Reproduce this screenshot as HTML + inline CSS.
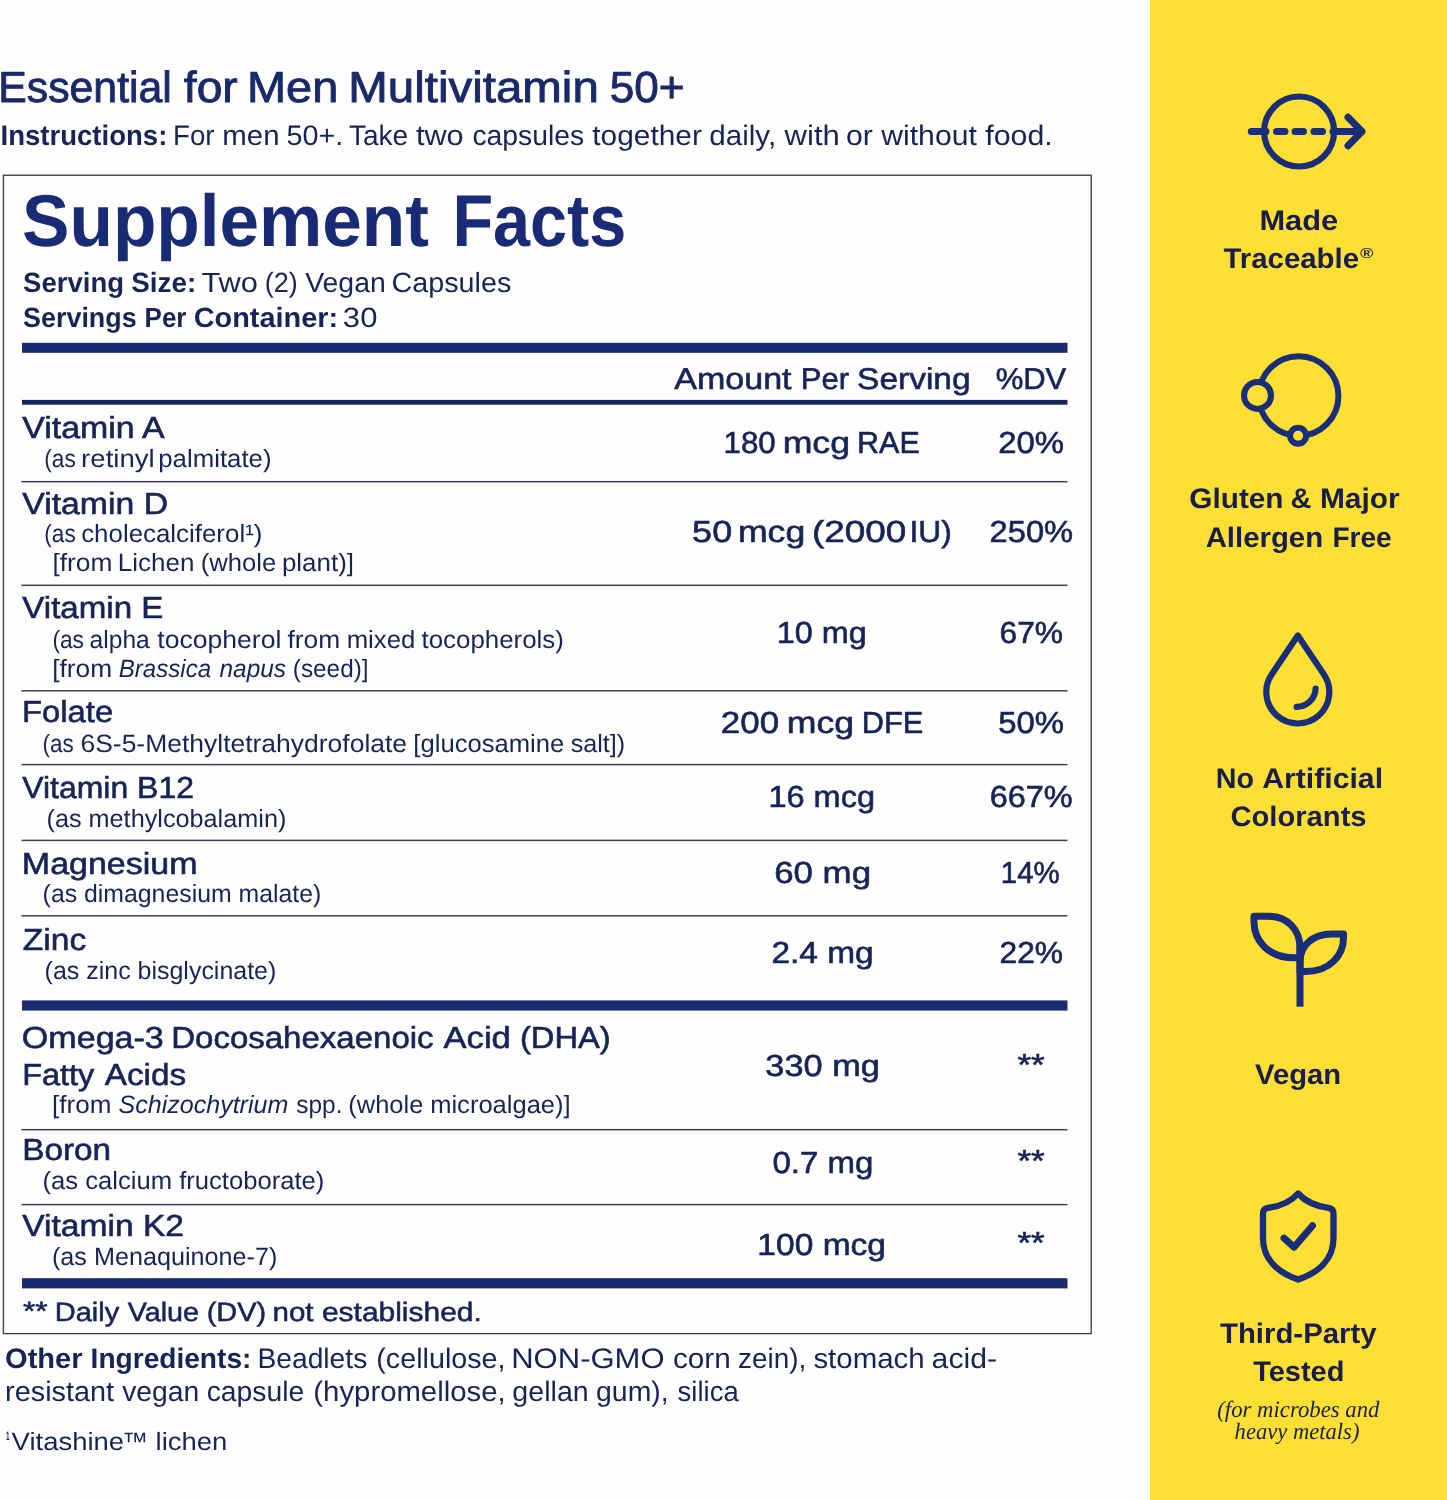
<!DOCTYPE html>
<html lang="en">
<head>
<meta charset="utf-8">
<title>Essential for Men Multivitamin 50+ - Supplement Facts</title>
<style>
  html, body { margin: 0; padding: 0; }
  body { width: 1447px; height: 1500px; overflow: hidden; background: #fefefe;
         font-family: "Liberation Sans", sans-serif; color: #172456; position: relative; }
  .sidebar { position: absolute; left: 1149.5px; top: 0; width: 298px; height: 1500px; background: #fde033; }
  .facts-box { position: absolute; left: 3px; top: 175px; width: 1088px; height: 1158px; background: #fefefe; }
  svg.layer { position: absolute; left: 0; top: 0; width: 1447px; height: 1500px; will-change: transform; }
  svg.layer text { font-family: "Liberation Sans", sans-serif; fill: #172456; white-space: pre; text-rendering: geometricPrecision; }
  svg.layer text.sf { font-family: "Liberation Serif", serif; }
</style>
</head>
<body>
<div class="sidebar"></div>
<div class="facts-box"></div>
<svg class="layer" width="1447" height="1500" viewBox="0 0 1447 1500">
<rect id="facts-border" x="3.4" y="175.25" width="1087.8" height="1158.35" fill="none" stroke="#41454e" stroke-width="1.4"/>
<g id="rules">

<rect x="22" y="342.8" width="1045.5" height="10" fill="#1b2b72"/>
<rect x="22" y="399.9" width="1045.5" height="4.8" fill="#16245c"/>
<rect x="22" y="1000.4" width="1045.5" height="10.2" fill="#1b2b72"/>
<rect x="22" y="1278.2" width="1045.5" height="10.2" fill="#1b2b72"/>

<rect x="21.5" y="480.95" width="1046" height="1.5" fill="#3b4258"/>
<rect x="21.5" y="584.55" width="1046" height="1.5" fill="#3b4258"/>
<rect x="21.5" y="690.05" width="1046" height="1.5" fill="#3b4258"/>
<rect x="21.5" y="763.85" width="1046" height="1.5" fill="#3b4258"/>
<rect x="21.5" y="839.65" width="1046" height="1.5" fill="#3b4258"/>
<rect x="21.5" y="915.05" width="1046" height="1.5" fill="#3b4258"/>
<rect x="21.5" y="1128.95" width="1046" height="1.5" fill="#3b4258"/>
<rect x="21.5" y="1203.85" width="1046" height="1.5" fill="#3b4258"/>
</g>
<g id="icons" fill="none" stroke="#1a2d78" stroke-linecap="round" stroke-linejoin="round">
<!-- Made Traceable: circle with dashed arrow -->
<g stroke-width="6.2">
<circle cx="1299.1" cy="131.5" r="35"/>
</g>
<g stroke-width="7">
<path d="M1251.3 131.5 H1266"/>
<path d="M1276.5 131.5 h8.5 M1295 131.5 h8.5 M1314 131.5 h8.5"/>
<path d="M1333 131.5 H1361"/>
<path d="M1348 117.3 L1362 131.5 L1348 145.7"/>
</g>
<!-- Allergen free: ring with two beads -->
<g stroke-width="6">
<circle cx="1298.6" cy="396" r="39.8"/>
<circle cx="1257.5" cy="395.4" r="13.5" fill="#fde033"/>
<circle cx="1298.1" cy="435.7" r="8" fill="#fde033"/>
</g>
<!-- Drop -->
<g stroke-width="6.2">
<path d="M1297.8 635.5 L1271.65 674.44 A31.5 31.5 0 1 0 1323.95 674.44 Z"/>
<path d="M1315.6 688.6 A19 19 0 0 1 1296.6 706.9"/>
</g>
<!-- Sprout -->
<g stroke-width="7" stroke-linecap="butt" stroke-linejoin="miter">
<path d="M1300 1006.7 V945"/>
<path d="M1254 916.2 H1268 C1288 916.2 1300 930 1300 948 V957.8 H1294 C1268 957.8 1254 940 1254 922 Z" stroke-linejoin="round"/>
<path d="M1343.5 934 H1332 C1312 934 1300 946 1300 962 V971.5 H1306 C1330 971.5 1343.5 955 1343.5 938 Z" stroke-linejoin="round"/>
</g>
<!-- Shield -->
<g stroke-width="6.3">
<path d="M1298.1 1193.5 C1291 1201.5 1279 1206.5 1268 1207.8 Q1263 1208.4 1263 1213.5 V1238 C1263 1260 1279 1273 1298.1 1279.5 C1317.5 1273 1333.5 1260 1333.5 1238 V1213.5 Q1333.5 1208.4 1328.5 1207.8 C1317.5 1206.5 1305.5 1201.5 1298.1 1193.5 Z"/>
<path d="M1284 1238.2 L1294 1247.2 L1312.5 1225.7" stroke-width="7"/>
</g>

</g>
<g id="text">
<text y="102" font-size="43.5" style="fill:#1a2a68" stroke="#1a2a68" stroke-width="0.87" x="-1.75" textLength="173.57" lengthAdjust="spacingAndGlyphs">Essential</text>
<text y="102" font-size="43.5" style="fill:#1a2a68" stroke="#1a2a68" stroke-width="0.87" x="183.80" textLength="53.92" lengthAdjust="spacingAndGlyphs">for</text>
<text y="102" font-size="43.5" style="fill:#1a2a68" stroke="#1a2a68" stroke-width="0.87" x="246.96" textLength="91.30" lengthAdjust="spacingAndGlyphs">Men</text>
<text y="102" font-size="43.5" style="fill:#1a2a68" stroke="#1a2a68" stroke-width="0.87" x="348.33" textLength="250.46" lengthAdjust="spacingAndGlyphs">Multivitamin</text>
<text y="102" font-size="43.5" style="fill:#1a2a68" stroke="#1a2a68" stroke-width="0.87" x="609.79" textLength="74.84" lengthAdjust="spacingAndGlyphs">50+</text>
<text y="145" font-size="28.2" font-weight="bold" x="0.52" textLength="166.81" lengthAdjust="spacingAndGlyphs">Instructions:</text>
<text y="145" font-size="28.2" x="173.03" textLength="41.55" lengthAdjust="spacingAndGlyphs">For</text>
<text y="145" font-size="28.2" x="222.36" textLength="57.19" lengthAdjust="spacingAndGlyphs">men</text>
<text y="145" font-size="28.2" x="286.48" textLength="56.79" lengthAdjust="spacingAndGlyphs">50+.</text>
<text y="145" font-size="28.2" x="348.90" textLength="59.37" lengthAdjust="spacingAndGlyphs">Take</text>
<text y="145" font-size="28.2" x="415.90" textLength="47.74" lengthAdjust="spacingAndGlyphs">two</text>
<text y="145" font-size="28.2" x="472.40" textLength="111.70" lengthAdjust="spacingAndGlyphs">capsules</text>
<text y="145" font-size="28.2" x="592.30" textLength="109.61" lengthAdjust="spacingAndGlyphs">together</text>
<text y="145" font-size="28.2" x="709.25" textLength="66.87" lengthAdjust="spacingAndGlyphs">daily,</text>
<text y="145" font-size="28.2" x="784.60" textLength="55.25" lengthAdjust="spacingAndGlyphs">with</text>
<text y="145" font-size="28.2" x="846.03" textLength="26.89" lengthAdjust="spacingAndGlyphs">or</text>
<text y="145" font-size="28.2" x="881.27" textLength="95.55" lengthAdjust="spacingAndGlyphs">without</text>
<text y="145" font-size="28.2" x="985.30" textLength="67.47" lengthAdjust="spacingAndGlyphs">food.</text>
<text y="246" font-size="73.5" font-weight="bold" style="fill:#1a2b75" x="22.07" textLength="406.90" lengthAdjust="spacingAndGlyphs">Supplement</text>
<text y="246" font-size="73.5" font-weight="bold" style="fill:#1a2b75" x="452.38" textLength="173.93" lengthAdjust="spacingAndGlyphs">Facts</text>
<text y="292" font-size="27.8" font-weight="bold" x="23.10" textLength="100.97" lengthAdjust="spacingAndGlyphs">Serving</text>
<text y="292" font-size="27.8" font-weight="bold" x="131.30" textLength="64.96" lengthAdjust="spacingAndGlyphs">Size:</text>
<text y="292" font-size="27.8" x="201.50" textLength="56.51" lengthAdjust="spacingAndGlyphs">Two</text>
<text y="292" font-size="27.8" x="264.73" textLength="33.10" lengthAdjust="spacingAndGlyphs">(2)</text>
<text y="292" font-size="27.8" x="305.20" textLength="80.59" lengthAdjust="spacingAndGlyphs">Vegan</text>
<text y="292" font-size="27.8" x="391.47" textLength="119.86" lengthAdjust="spacingAndGlyphs">Capsules</text>
<text y="327" font-size="27.8" font-weight="bold" x="23.10" textLength="113.54" lengthAdjust="spacingAndGlyphs">Servings</text>
<text y="327" font-size="27.8" font-weight="bold" x="144.57" textLength="41.86" lengthAdjust="spacingAndGlyphs">Per</text>
<text y="327" font-size="27.8" font-weight="bold" x="193.76" textLength="144.38" lengthAdjust="spacingAndGlyphs">Container:</text>
<text y="327" font-size="27.8" x="342.88" textLength="34.53" lengthAdjust="spacingAndGlyphs">30</text>
<text y="389" font-size="30" stroke="#172456" stroke-width="0.6" x="674.30" textLength="117.25" lengthAdjust="spacingAndGlyphs">Amount</text>
<text y="389" font-size="30" stroke="#172456" stroke-width="0.6" x="800.83" textLength="48.26" lengthAdjust="spacingAndGlyphs">Per</text>
<text y="389" font-size="30" stroke="#172456" stroke-width="0.6" x="857.08" textLength="113.50" lengthAdjust="spacingAndGlyphs">Serving</text>
<text y="389" font-size="30" stroke="#172456" stroke-width="0.6" x="995.67" textLength="70.64" lengthAdjust="spacingAndGlyphs">%DV</text>
<text y="438" font-size="30.4" stroke="#172456" stroke-width="0.61" x="22.30" textLength="142.40" lengthAdjust="spacingAndGlyphs">Vitamin A</text>
<text y="467" font-size="25" x="44.29" textLength="31.46" lengthAdjust="spacingAndGlyphs">(as</text>
<text y="467" font-size="25" x="81.10" textLength="73.62" lengthAdjust="spacingAndGlyphs">retinyl</text>
<text y="467" font-size="25" x="158.27" textLength="113.30" lengthAdjust="spacingAndGlyphs">palmitate)</text>
<text y="453" font-size="30.4" stroke="#172456" stroke-width="0.61" x="723.54" textLength="52.19" lengthAdjust="spacingAndGlyphs">180</text>
<text y="453" font-size="30.4" stroke="#172456" stroke-width="0.61" x="782.65" textLength="67.38" lengthAdjust="spacingAndGlyphs">mcg</text>
<text y="453" font-size="30.4" stroke="#172456" stroke-width="0.61" x="857.09" textLength="62.68" lengthAdjust="spacingAndGlyphs">RAE</text>
<text y="453" font-size="30.4" stroke="#172456" stroke-width="0.61" x="998.22" textLength="65.79" lengthAdjust="spacingAndGlyphs">20%</text>
<text y="514" font-size="30.4" stroke="#172456" stroke-width="0.61" x="22.30" textLength="145.75" lengthAdjust="spacingAndGlyphs">Vitamin D</text>
<text y="542" font-size="25" x="44.29" textLength="31.46" lengthAdjust="spacingAndGlyphs">(as</text>
<text y="542" font-size="25" x="81.16" textLength="181.21" lengthAdjust="spacingAndGlyphs">cholecalciferol¹)</text>
<text y="571" font-size="25" x="52.45" textLength="60.02" lengthAdjust="spacingAndGlyphs">[from</text>
<text y="571" font-size="25" x="117.82" textLength="76.62" lengthAdjust="spacingAndGlyphs">Lichen</text>
<text y="571" font-size="25" x="200.77" textLength="75.55" lengthAdjust="spacingAndGlyphs">(whole</text>
<text y="571" font-size="25" x="281.96" textLength="72.02" lengthAdjust="spacingAndGlyphs">plant)]</text>
<text y="542" font-size="30.4" stroke="#172456" stroke-width="0.61" x="692.12" textLength="40.05" lengthAdjust="spacingAndGlyphs">50</text>
<text y="542" font-size="30.4" stroke="#172456" stroke-width="0.61" x="737.96" textLength="67.27" lengthAdjust="spacingAndGlyphs">mcg</text>
<text y="542" font-size="30.4" stroke="#172456" stroke-width="0.61" x="811.99" textLength="94.41" lengthAdjust="spacingAndGlyphs">(2000</text>
<text y="542" font-size="30.4" stroke="#172456" stroke-width="0.61" x="909.51" textLength="42.25" lengthAdjust="spacingAndGlyphs">IU)</text>
<text y="542" font-size="30.4" stroke="#172456" stroke-width="0.61" x="989.63" textLength="83.47" lengthAdjust="spacingAndGlyphs">250%</text>
<text y="618" font-size="30.4" stroke="#172456" stroke-width="0.61" x="22.30" textLength="141.08" lengthAdjust="spacingAndGlyphs">Vitamin E</text>
<text y="648" font-size="25" x="52.39" textLength="31.56" lengthAdjust="spacingAndGlyphs">(as</text>
<text y="648" font-size="25" x="89.62" textLength="60.19" lengthAdjust="spacingAndGlyphs">alpha</text>
<text y="648" font-size="25" x="157.30" textLength="124.05" lengthAdjust="spacingAndGlyphs">tocopherol</text>
<text y="648" font-size="25" x="287.50" textLength="52.77" lengthAdjust="spacingAndGlyphs">from</text>
<text y="648" font-size="25" x="346.67" textLength="68.66" lengthAdjust="spacingAndGlyphs">mixed</text>
<text y="648" font-size="25" x="421.50" textLength="142.37" lengthAdjust="spacingAndGlyphs">tocopherols)</text>
<text y="677" font-size="25" x="52.25" textLength="59.92" lengthAdjust="spacingAndGlyphs">[from</text>
<text y="677" font-size="25" font-style="italic" x="118.80" textLength="92.31" lengthAdjust="spacingAndGlyphs">Brassica</text>
<text y="677" font-size="25" font-style="italic" x="219.50" textLength="66.49" lengthAdjust="spacingAndGlyphs">napus</text>
<text y="677" font-size="25" x="292.83" textLength="75.69" lengthAdjust="spacingAndGlyphs">(seed)]</text>
<text y="643" font-size="30.4" stroke="#172456" stroke-width="0.61" x="776.87" textLength="89.96" lengthAdjust="spacingAndGlyphs">10 mg</text>
<text y="643" font-size="30.4" stroke="#172456" stroke-width="0.61" x="999.56" textLength="63.51" lengthAdjust="spacingAndGlyphs">67%</text>
<text y="722" font-size="30.4" stroke="#172456" stroke-width="0.61" x="22.04" textLength="91.13" lengthAdjust="spacingAndGlyphs">Folate</text>
<text y="752" font-size="25" x="42.40" textLength="31.25" lengthAdjust="spacingAndGlyphs">(as</text>
<text y="752" font-size="25" x="80.44" textLength="326.62" lengthAdjust="spacingAndGlyphs">6S-5-Methyltetrahydrofolate</text>
<text y="752" font-size="25" x="413.38" textLength="150.85" lengthAdjust="spacingAndGlyphs">[glucosamine</text>
<text y="752" font-size="25" x="570.70" textLength="54.43" lengthAdjust="spacingAndGlyphs">salt])</text>
<text y="733" font-size="30.4" stroke="#172456" stroke-width="0.61" x="720.85" textLength="58.29" lengthAdjust="spacingAndGlyphs">200</text>
<text y="733" font-size="30.4" stroke="#172456" stroke-width="0.61" x="786.86" textLength="67.27" lengthAdjust="spacingAndGlyphs">mcg</text>
<text y="733" font-size="30.4" stroke="#172456" stroke-width="0.61" x="861.78" textLength="61.40" lengthAdjust="spacingAndGlyphs">DFE</text>
<text y="733" font-size="30.4" stroke="#172456" stroke-width="0.61" x="998.22" textLength="65.79" lengthAdjust="spacingAndGlyphs">50%</text>
<text y="798" font-size="30.4" stroke="#172456" stroke-width="0.61" x="22.30" textLength="171.65" lengthAdjust="spacingAndGlyphs">Vitamin B12</text>
<text y="827" font-size="25" x="46.49" textLength="239.85" lengthAdjust="spacingAndGlyphs">(as methylcobalamin)</text>
<text y="807" font-size="30.4" stroke="#172456" stroke-width="0.61" x="768.46" textLength="106.57" lengthAdjust="spacingAndGlyphs">16 mcg</text>
<text y="807" font-size="30.4" stroke="#172456" stroke-width="0.61" x="989.73" textLength="82.96" lengthAdjust="spacingAndGlyphs">667%</text>
<text y="874" font-size="30.4" stroke="#172456" stroke-width="0.61" x="21.86" textLength="175.61" lengthAdjust="spacingAndGlyphs">Magnesium</text>
<text y="902" font-size="25" x="42.61" textLength="278.71" lengthAdjust="spacingAndGlyphs">(as dimagnesium malate)</text>
<text y="883" font-size="30.4" stroke="#172456" stroke-width="0.61" x="774.15" textLength="96.93" lengthAdjust="spacingAndGlyphs">60 mg</text>
<text y="883" font-size="30.4" stroke="#172456" stroke-width="0.61" x="1000.86" textLength="58.93" lengthAdjust="spacingAndGlyphs">14%</text>
<text y="950" font-size="30.4" stroke="#172456" stroke-width="0.61" x="22.80" textLength="63.42" lengthAdjust="spacingAndGlyphs">Zinc</text>
<text y="979" font-size="25" x="44.60" textLength="231.72" lengthAdjust="spacingAndGlyphs">(as zinc bisglycinate)</text>
<text y="963" font-size="30.4" stroke="#172456" stroke-width="0.61" x="771.40" textLength="102.19" lengthAdjust="spacingAndGlyphs">2.4 mg</text>
<text y="963" font-size="30.4" stroke="#172456" stroke-width="0.61" x="999.56" textLength="63.51" lengthAdjust="spacingAndGlyphs">22%</text>
<text y="1048" font-size="30.4" stroke="#172456" stroke-width="0.61" x="21.88" textLength="141.93" lengthAdjust="spacingAndGlyphs">Omega-3</text>
<text y="1048" font-size="30.4" stroke="#172456" stroke-width="0.61" x="171.23" textLength="262.38" lengthAdjust="spacingAndGlyphs">Docosahexaenoic</text>
<text y="1048" font-size="30.4" stroke="#172456" stroke-width="0.61" x="443.60" textLength="67.16" lengthAdjust="spacingAndGlyphs">Acid</text>
<text y="1048" font-size="30.4" stroke="#172456" stroke-width="0.61" x="519.92" textLength="90.78" lengthAdjust="spacingAndGlyphs">(DHA)</text>
<text y="1085" font-size="30.4" stroke="#172456" stroke-width="0.61" x="22.17" textLength="72.08" lengthAdjust="spacingAndGlyphs">Fatty</text>
<text y="1085" font-size="30.4" stroke="#172456" stroke-width="0.61" x="104.80" textLength="81.21" lengthAdjust="spacingAndGlyphs">Acids</text>
<text y="1113" font-size="25" x="52.06" textLength="59.40" lengthAdjust="spacingAndGlyphs">[from</text>
<text y="1113" font-size="25" font-style="italic" x="118.50" textLength="169.83" lengthAdjust="spacingAndGlyphs">Schizochytrium</text>
<text y="1113" font-size="25" x="296.30" textLength="46.20" lengthAdjust="spacingAndGlyphs">spp.</text>
<text y="1113" font-size="25" x="348.38" textLength="74.94" lengthAdjust="spacingAndGlyphs">(whole</text>
<text y="1113" font-size="25" x="430.18" textLength="140.49" lengthAdjust="spacingAndGlyphs">microalgae)]</text>
<text y="1076" font-size="30.4" stroke="#172456" stroke-width="0.61" x="765.37" textLength="114.48" lengthAdjust="spacingAndGlyphs">330 mg</text>
<text y="1075" font-size="30.4" stroke="#172456" stroke-width="0.61" x="1017.40" textLength="27.40" lengthAdjust="spacingAndGlyphs">**</text>
<text y="1160" font-size="30.4" stroke="#172456" stroke-width="0.61" x="22.21" textLength="88.88" lengthAdjust="spacingAndGlyphs">Boron</text>
<text y="1189" font-size="25" x="42.58" textLength="281.78" lengthAdjust="spacingAndGlyphs">(as calcium fructoborate)</text>
<text y="1173" font-size="30.4" stroke="#172456" stroke-width="0.61" x="772.41" textLength="100.95" lengthAdjust="spacingAndGlyphs">0.7 mg</text>
<text y="1171" font-size="30.4" stroke="#172456" stroke-width="0.61" x="1017.40" textLength="27.40" lengthAdjust="spacingAndGlyphs">**</text>
<text y="1236" font-size="30.4" stroke="#172456" stroke-width="0.61" x="22.30" textLength="161.70" lengthAdjust="spacingAndGlyphs">Vitamin K2</text>
<text y="1265" font-size="25" x="51.99" textLength="225.34" lengthAdjust="spacingAndGlyphs">(as Menaquinone-7)</text>
<text y="1255" font-size="30.4" stroke="#172456" stroke-width="0.61" x="757.39" textLength="128.60" lengthAdjust="spacingAndGlyphs">100 mcg</text>
<text y="1253" font-size="30.4" stroke="#172456" stroke-width="0.61" x="1017.40" textLength="27.40" lengthAdjust="spacingAndGlyphs">**</text>
<text y="1320" font-size="26.6" stroke="#172456" stroke-width="0.53" x="23.00" textLength="24.72" lengthAdjust="spacingAndGlyphs">**</text>
<text y="1321" font-size="26.6" stroke="#172456" stroke-width="0.53" x="54.82" textLength="64.41" lengthAdjust="spacingAndGlyphs">Daily</text>
<text y="1321" font-size="26.6" stroke="#172456" stroke-width="0.53" x="127.70" textLength="71.25" lengthAdjust="spacingAndGlyphs">Value</text>
<text y="1321" font-size="26.6" stroke="#172456" stroke-width="0.53" x="206.71" textLength="59.31" lengthAdjust="spacingAndGlyphs">(DV)</text>
<text y="1321" font-size="26.6" stroke="#172456" stroke-width="0.53" x="272.49" textLength="41.03" lengthAdjust="spacingAndGlyphs">not</text>
<text y="1321" font-size="26.6" stroke="#172456" stroke-width="0.53" x="321.97" textLength="159.82" lengthAdjust="spacingAndGlyphs">established.</text>
<text y="1368" font-size="28.2" font-weight="bold" x="5.07" textLength="77.50" lengthAdjust="spacingAndGlyphs">Other</text>
<text y="1368" font-size="28.2" font-weight="bold" x="90.60" textLength="160.78" lengthAdjust="spacingAndGlyphs">Ingredients:</text>
<text y="1368" font-size="28.2" x="257.40" textLength="109.90" lengthAdjust="spacingAndGlyphs">Beadlets</text>
<text y="1368" font-size="28.2" x="376.28" textLength="129.28" lengthAdjust="spacingAndGlyphs">(cellulose,</text>
<text y="1368" font-size="28.2" x="511.20" textLength="153.42" lengthAdjust="spacingAndGlyphs">NON-GMO</text>
<text y="1368" font-size="28.2" x="672.95" textLength="57.82" lengthAdjust="spacingAndGlyphs">corn</text>
<text y="1368" font-size="28.2" x="738.01" textLength="68.20" lengthAdjust="spacingAndGlyphs">zein),</text>
<text y="1368" font-size="28.2" x="813.40" textLength="111.35" lengthAdjust="spacingAndGlyphs">stomach</text>
<text y="1368" font-size="28.2" x="931.63" textLength="65.38" lengthAdjust="spacingAndGlyphs">acid-</text>
<text y="1401" font-size="28.2" x="5.08" textLength="109.05" lengthAdjust="spacingAndGlyphs">resistant</text>
<text y="1401" font-size="28.2" x="122.20" textLength="77.08" lengthAdjust="spacingAndGlyphs">vegan</text>
<text y="1401" font-size="28.2" x="206.70" textLength="97.58" lengthAdjust="spacingAndGlyphs">capsule</text>
<text y="1401" font-size="28.2" x="313.36" textLength="192.24" lengthAdjust="spacingAndGlyphs">(hypromellose,</text>
<text y="1401" font-size="28.2" x="512.39" textLength="76.32" lengthAdjust="spacingAndGlyphs">gellan</text>
<text y="1401" font-size="28.2" x="596.09" textLength="72.55" lengthAdjust="spacingAndGlyphs">gum),</text>
<text y="1401" font-size="28.2" x="677.60" textLength="61.08" lengthAdjust="spacingAndGlyphs">silica</text>
<text y="1440" font-size="12.2" font-weight="bold" x="6.10" textLength="3.58" lengthAdjust="spacingAndGlyphs">1</text>
<text y="1450" font-size="25" x="11.60" textLength="112.49" lengthAdjust="spacingAndGlyphs">Vitashine</text>
<text y="1450" font-size="25" x="122.34" textLength="25.71" lengthAdjust="spacingAndGlyphs">™</text>
<text y="1450" font-size="25" x="155.60" textLength="71.79" lengthAdjust="spacingAndGlyphs">lichen</text>
<text y="230" font-size="28.2" font-weight="bold" style="fill:#191d47" x="1259.41" textLength="78.83" lengthAdjust="spacingAndGlyphs">Made</text>
<text y="268" font-size="28.2" font-weight="bold" style="fill:#191d47" x="1223.50" textLength="135.50" lengthAdjust="spacingAndGlyphs">Traceable</text>
<text y="258" font-size="14.5" font-weight="bold" style="fill:#191d47" x="1360.10" textLength="13.40" lengthAdjust="spacingAndGlyphs">®</text>
<text y="508" font-size="28.2" font-weight="bold" style="fill:#191d47" x="1189.24" textLength="94.34" lengthAdjust="spacingAndGlyphs">Gluten</text>
<text y="508" font-size="28.2" font-weight="bold" style="fill:#191d47" x="1290.47" textLength="20.89" lengthAdjust="spacingAndGlyphs">&amp;</text>
<text y="508" font-size="28.2" font-weight="bold" style="fill:#191d47" x="1319.94" textLength="79.83" lengthAdjust="spacingAndGlyphs">Major</text>
<text y="547" font-size="28.2" font-weight="bold" style="fill:#191d47" x="1205.70" textLength="117.37" lengthAdjust="spacingAndGlyphs">Allergen</text>
<text y="547" font-size="28.2" font-weight="bold" style="fill:#191d47" x="1332.40" textLength="59.27" lengthAdjust="spacingAndGlyphs">Free</text>
<text y="788" font-size="28.2" font-weight="bold" style="fill:#191d47" x="1215.88" textLength="38.24" lengthAdjust="spacingAndGlyphs">No</text>
<text y="788" font-size="28.2" font-weight="bold" style="fill:#191d47" x="1262.20" textLength="120.86" lengthAdjust="spacingAndGlyphs">Artificial</text>
<text y="826" font-size="28.2" font-weight="bold" style="fill:#191d47" x="1230.47" textLength="136.13" lengthAdjust="spacingAndGlyphs">Colorants</text>
<text y="1084" font-size="28.2" font-weight="bold" style="fill:#191d47" x="1255.00" textLength="86.16" lengthAdjust="spacingAndGlyphs">Vegan</text>
<text y="1343" font-size="28.2" font-weight="bold" style="fill:#191d47" x="1220.00" textLength="156.56" lengthAdjust="spacingAndGlyphs">Third-Party</text>
<text y="1381" font-size="28.2" font-weight="bold" style="fill:#191d47" x="1253.20" textLength="91.15" lengthAdjust="spacingAndGlyphs">Tested</text>
<text y="1417" font-size="23.5" class="sf" font-style="italic" style="fill:#191d47" x="1217.30" textLength="162.16" lengthAdjust="spacingAndGlyphs">(for microbes and</text>
<text y="1439" font-size="23.5" class="sf" font-style="italic" style="fill:#191d47" x="1234.60" textLength="124.83" lengthAdjust="spacingAndGlyphs">heavy metals)</text>
</g>
</svg>
</body>
</html>
